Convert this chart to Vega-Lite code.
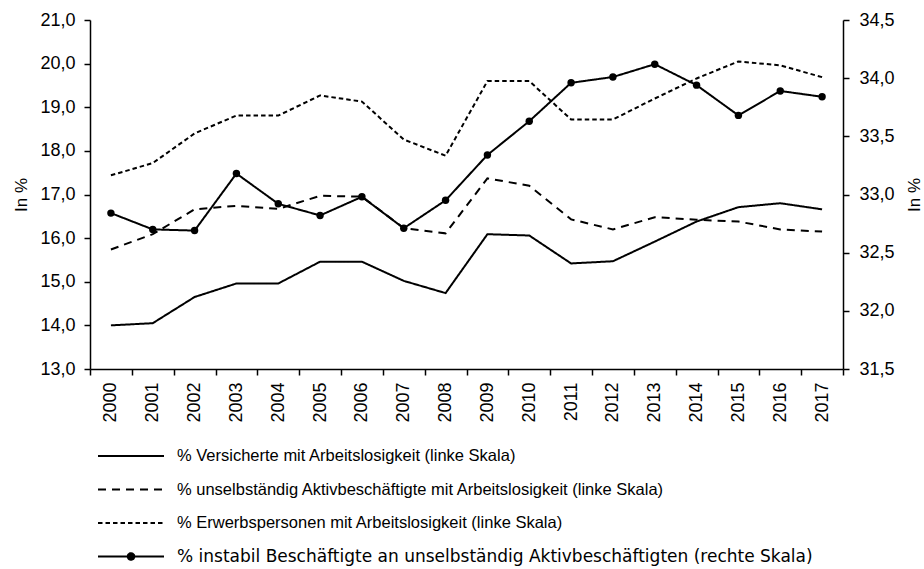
{
  "$schema": "https://vega.github.io/schema/vega-lite/v6.json",
  "autosize": {"type": "none"},
  "width": 753,
  "height": 349,
  "padding": {"left": 90, "top": 20, "right": 81, "bottom": 200},
  "background": "white",
  "config": {
    "view": {"stroke": null},
    "font": "Liberation Sans",
    "axis": {"grid": false, "domainColor": "black", "domainWidth": 1.5, "tickColor": "black", "tickWidth": 1.5, "tickSize": 6, "labelColor": "black", "labelFont": "Liberation Sans", "labelFontSize": 18, "titleFont": "Liberation Sans", "titleFontSize": 17, "titleFontWeight": "normal", "titleColor": "black"}
  },
  "data": {"values": [
    {"y": "2000", "s": "% Versicherte mit Arbeitslosigkeit (linke Skala)", "v": 14.0},
    {"y": "2001", "s": "% Versicherte mit Arbeitslosigkeit (linke Skala)", "v": 14.05},
    {"y": "2002", "s": "% Versicherte mit Arbeitslosigkeit (linke Skala)", "v": 14.65},
    {"y": "2003", "s": "% Versicherte mit Arbeitslosigkeit (linke Skala)", "v": 14.96},
    {"y": "2004", "s": "% Versicherte mit Arbeitslosigkeit (linke Skala)", "v": 14.96},
    {"y": "2005", "s": "% Versicherte mit Arbeitslosigkeit (linke Skala)", "v": 15.46},
    {"y": "2006", "s": "% Versicherte mit Arbeitslosigkeit (linke Skala)", "v": 15.46},
    {"y": "2007", "s": "% Versicherte mit Arbeitslosigkeit (linke Skala)", "v": 15.02},
    {"y": "2008", "s": "% Versicherte mit Arbeitslosigkeit (linke Skala)", "v": 14.74},
    {"y": "2009", "s": "% Versicherte mit Arbeitslosigkeit (linke Skala)", "v": 16.09},
    {"y": "2010", "s": "% Versicherte mit Arbeitslosigkeit (linke Skala)", "v": 16.06},
    {"y": "2011", "s": "% Versicherte mit Arbeitslosigkeit (linke Skala)", "v": 15.42},
    {"y": "2012", "s": "% Versicherte mit Arbeitslosigkeit (linke Skala)", "v": 15.47},
    {"y": "2013", "s": "% Versicherte mit Arbeitslosigkeit (linke Skala)", "v": 15.92},
    {"y": "2014", "s": "% Versicherte mit Arbeitslosigkeit (linke Skala)", "v": 16.38},
    {"y": "2015", "s": "% Versicherte mit Arbeitslosigkeit (linke Skala)", "v": 16.71},
    {"y": "2016", "s": "% Versicherte mit Arbeitslosigkeit (linke Skala)", "v": 16.8},
    {"y": "2017", "s": "% Versicherte mit Arbeitslosigkeit (linke Skala)", "v": 16.66},
    {"y": "2000", "s": "% unselbständig Aktivbeschäftigte mit Arbeitslosigkeit (linke Skala)", "v": 15.74},
    {"y": "2001", "s": "% unselbständig Aktivbeschäftigte mit Arbeitslosigkeit (linke Skala)", "v": 16.09},
    {"y": "2002", "s": "% unselbständig Aktivbeschäftigte mit Arbeitslosigkeit (linke Skala)", "v": 16.66},
    {"y": "2003", "s": "% unselbständig Aktivbeschäftigte mit Arbeitslosigkeit (linke Skala)", "v": 16.74},
    {"y": "2004", "s": "% unselbständig Aktivbeschäftigte mit Arbeitslosigkeit (linke Skala)", "v": 16.67},
    {"y": "2005", "s": "% unselbständig Aktivbeschäftigte mit Arbeitslosigkeit (linke Skala)", "v": 16.97},
    {"y": "2006", "s": "% unselbständig Aktivbeschäftigte mit Arbeitslosigkeit (linke Skala)", "v": 16.95},
    {"y": "2007", "s": "% unselbständig Aktivbeschäftigte mit Arbeitslosigkeit (linke Skala)", "v": 16.23},
    {"y": "2008", "s": "% unselbständig Aktivbeschäftigte mit Arbeitslosigkeit (linke Skala)", "v": 16.11},
    {"y": "2009", "s": "% unselbständig Aktivbeschäftigte mit Arbeitslosigkeit (linke Skala)", "v": 17.37},
    {"y": "2010", "s": "% unselbständig Aktivbeschäftigte mit Arbeitslosigkeit (linke Skala)", "v": 17.2},
    {"y": "2011", "s": "% unselbständig Aktivbeschäftigte mit Arbeitslosigkeit (linke Skala)", "v": 16.43},
    {"y": "2012", "s": "% unselbständig Aktivbeschäftigte mit Arbeitslosigkeit (linke Skala)", "v": 16.2},
    {"y": "2013", "s": "% unselbständig Aktivbeschäftigte mit Arbeitslosigkeit (linke Skala)", "v": 16.48},
    {"y": "2014", "s": "% unselbständig Aktivbeschäftigte mit Arbeitslosigkeit (linke Skala)", "v": 16.42},
    {"y": "2015", "s": "% unselbständig Aktivbeschäftigte mit Arbeitslosigkeit (linke Skala)", "v": 16.38},
    {"y": "2016", "s": "% unselbständig Aktivbeschäftigte mit Arbeitslosigkeit (linke Skala)", "v": 16.2},
    {"y": "2017", "s": "% unselbständig Aktivbeschäftigte mit Arbeitslosigkeit (linke Skala)", "v": 16.15},
    {"y": "2000", "s": "% Erwerbspersonen mit Arbeitslosigkeit (linke Skala)", "v": 17.44},
    {"y": "2001", "s": "% Erwerbspersonen mit Arbeitslosigkeit (linke Skala)", "v": 17.72},
    {"y": "2002", "s": "% Erwerbspersonen mit Arbeitslosigkeit (linke Skala)", "v": 18.4},
    {"y": "2003", "s": "% Erwerbspersonen mit Arbeitslosigkeit (linke Skala)", "v": 18.81},
    {"y": "2004", "s": "% Erwerbspersonen mit Arbeitslosigkeit (linke Skala)", "v": 18.81},
    {"y": "2005", "s": "% Erwerbspersonen mit Arbeitslosigkeit (linke Skala)", "v": 19.27},
    {"y": "2006", "s": "% Erwerbspersonen mit Arbeitslosigkeit (linke Skala)", "v": 19.13},
    {"y": "2007", "s": "% Erwerbspersonen mit Arbeitslosigkeit (linke Skala)", "v": 18.26},
    {"y": "2008", "s": "% Erwerbspersonen mit Arbeitslosigkeit (linke Skala)", "v": 17.89},
    {"y": "2009", "s": "% Erwerbspersonen mit Arbeitslosigkeit (linke Skala)", "v": 19.6},
    {"y": "2010", "s": "% Erwerbspersonen mit Arbeitslosigkeit (linke Skala)", "v": 19.6},
    {"y": "2011", "s": "% Erwerbspersonen mit Arbeitslosigkeit (linke Skala)", "v": 18.72},
    {"y": "2012", "s": "% Erwerbspersonen mit Arbeitslosigkeit (linke Skala)", "v": 18.72},
    {"y": "2013", "s": "% Erwerbspersonen mit Arbeitslosigkeit (linke Skala)", "v": 19.2},
    {"y": "2014", "s": "% Erwerbspersonen mit Arbeitslosigkeit (linke Skala)", "v": 19.66},
    {"y": "2015", "s": "% Erwerbspersonen mit Arbeitslosigkeit (linke Skala)", "v": 20.05},
    {"y": "2016", "s": "% Erwerbspersonen mit Arbeitslosigkeit (linke Skala)", "v": 19.96},
    {"y": "2017", "s": "% Erwerbspersonen mit Arbeitslosigkeit (linke Skala)", "v": 19.69},
    {"y": "2000", "s": "% instabil Beschäftigte an unselbständig Aktivbeschäftigten (rechte Skala)", "v": 32.84},
    {"y": "2001", "s": "% instabil Beschäftigte an unselbständig Aktivbeschäftigten (rechte Skala)", "v": 32.7},
    {"y": "2002", "s": "% instabil Beschäftigte an unselbständig Aktivbeschäftigten (rechte Skala)", "v": 32.69},
    {"y": "2003", "s": "% instabil Beschäftigte an unselbständig Aktivbeschäftigten (rechte Skala)", "v": 33.18},
    {"y": "2004", "s": "% instabil Beschäftigte an unselbständig Aktivbeschäftigten (rechte Skala)", "v": 32.92},
    {"y": "2005", "s": "% instabil Beschäftigte an unselbständig Aktivbeschäftigten (rechte Skala)", "v": 32.82},
    {"y": "2006", "s": "% instabil Beschäftigte an unselbständig Aktivbeschäftigten (rechte Skala)", "v": 32.98},
    {"y": "2007", "s": "% instabil Beschäftigte an unselbständig Aktivbeschäftigten (rechte Skala)", "v": 32.71},
    {"y": "2008", "s": "% instabil Beschäftigte an unselbständig Aktivbeschäftigten (rechte Skala)", "v": 32.95},
    {"y": "2009", "s": "% instabil Beschäftigte an unselbständig Aktivbeschäftigten (rechte Skala)", "v": 33.34},
    {"y": "2010", "s": "% instabil Beschäftigte an unselbständig Aktivbeschäftigten (rechte Skala)", "v": 33.63},
    {"y": "2011", "s": "% instabil Beschäftigte an unselbständig Aktivbeschäftigten (rechte Skala)", "v": 33.96},
    {"y": "2012", "s": "% instabil Beschäftigte an unselbständig Aktivbeschäftigten (rechte Skala)", "v": 34.01},
    {"y": "2013", "s": "% instabil Beschäftigte an unselbständig Aktivbeschäftigten (rechte Skala)", "v": 34.12},
    {"y": "2014", "s": "% instabil Beschäftigte an unselbständig Aktivbeschäftigten (rechte Skala)", "v": 33.94},
    {"y": "2015", "s": "% instabil Beschäftigte an unselbständig Aktivbeschäftigten (rechte Skala)", "v": 33.68},
    {"y": "2016", "s": "% instabil Beschäftigte an unselbständig Aktivbeschäftigten (rechte Skala)", "v": 33.89},
    {"y": "2017", "s": "% instabil Beschäftigte an unselbständig Aktivbeschäftigten (rechte Skala)", "v": 33.84}
  ]},
  "layer": [
    {
      "transform": [{"filter": {"not": {"field": "s", "equal": "% instabil Beschäftigte an unselbständig Aktivbeschäftigten (rechte Skala)"}}}],
      "mark": {"type": "line", "color": "black", "strokeWidth": 2},
      "encoding": {
        "x": {"field": "y", "type": "ordinal", "bandPosition": 0.5, "scale": {"type": "band", "paddingInner": 0, "paddingOuter": 0},
              "axis": {"title": null, "labelAngle": -90, "tickBand": "extent", "labelPadding": 7, "labelBaseline": "middle", "labelAlign": "right"}},
        "y": {"field": "v", "type": "quantitative", "scale": {"domain": [13, 21], "nice": false, "zero": false},
              "axis": {"title": "In %", "orient": "left", "values": [13, 14, 15, 16, 17, 18, 19, 20, 21], "labelExpr": "replace(format(datum.value, '.1f'), '.', ',')", "labelPadding": 9, "titlePadding": 9}},
        "strokeDash": {"field": "s", "type": "nominal",
          "scale": {"domain": [
            "% Versicherte mit Arbeitslosigkeit (linke Skala)",
            "% unselbständig Aktivbeschäftigte mit Arbeitslosigkeit (linke Skala)",
            "% Erwerbspersonen mit Arbeitslosigkeit (linke Skala)",
            "% instabil Beschäftigte an unselbständig Aktivbeschäftigten (rechte Skala)"],
            "range": [[1, 0], [8, 6], [4.5, 3], [1, 0]]},
          "legend": {"title": null, "orient": "none", "legendX": 29, "legendY": 424, "direction": "vertical", "padding": 0,
            "symbolType": "M-3,0H3", "symbolSize": 484, "symbolStrokeWidth": 2, "symbolStrokeColor": "black", "symbolFillColor": "black",
            "labelFont": "Liberation Sans", "labelFontSize": 16.5, "labelColor": "black", "labelOffset": 34, "labelLimit": 0, "rowPadding": 12.5,
            "encode": {
              "symbols": {"update": {
                "shape": {"signal": "datum.value === '% instabil Beschäftigte an unselbständig Aktivbeschäftigten (rechte Skala)' ? 'M-3,0H3M-0.3,0A0.3,0.3,0,1,0,0.3,0A0.3,0.3,0,1,0,-0.3,0' : 'M-3,0H3'"}}},
              "labels": {"update": {
                "font": {"signal": "datum.value === '% instabil Beschäftigte an unselbständig Aktivbeschäftigten (rechte Skala)' ? 'DejaVu Sans' : 'Liberation Sans'"},
                "fontSize": {"signal": "datum.value === '% instabil Beschäftigte an unselbständig Aktivbeschäftigten (rechte Skala)' ? 17 : 16.5"}}}}}}
      }
    },
    {
      "transform": [{"filter": {"field": "s", "equal": "% instabil Beschäftigte an unselbständig Aktivbeschäftigten (rechte Skala)"}}],
      "mark": {"type": "line", "color": "black", "strokeWidth": 2, "point": {"filled": true, "color": "black", "size": 55}},
      "encoding": {
        "x": {"field": "y", "type": "ordinal", "bandPosition": 0.5},
        "y": {"field": "v", "type": "quantitative", "scale": {"domain": [31.5, 34.5], "nice": false, "zero": false},
              "axis": {"title": "In %", "orient": "right", "values": [31.5, 32, 32.5, 33, 33.5, 34, 34.5], "labelExpr": "replace(format(datum.value, '.1f'), '.', ',')", "labelPadding": 10, "titlePadding": 29, "titleAngle": 270}},
        "strokeDash": {"field": "s", "type": "nominal"}
      }
    }
  ],
  "resolve": {"scale": {"y": "independent"}}
}
